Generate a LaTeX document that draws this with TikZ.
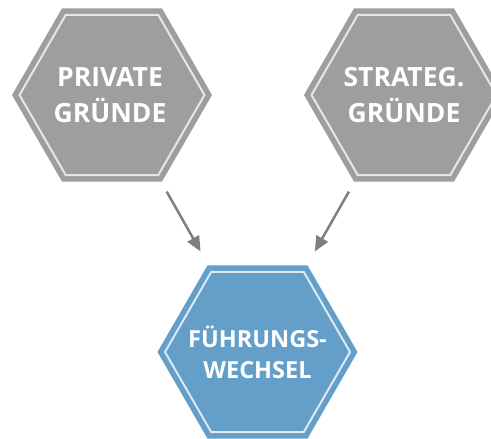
\documentclass[tikz,border=0pt]{standalone}
\usepackage{fontspec}
\setmainfont{Open Sans}
\usetikzlibrary{shapes.geometric, arrows.meta}
\definecolor{hexgray}{HTML}{9E9E9E}
\definecolor{hexgrayline}{HTML}{E6E6E6}
\definecolor{hexblue}{HTML}{639FC8}
\definecolor{hexblueline}{HTML}{DCE9F3}
\definecolor{arrowgray}{HTML}{7F7F7F}
\tikzset{hexa/.style={regular polygon, regular polygon sides=6, minimum size=200pt, inner sep=0pt, outer sep=0pt}}
\tikzset{hexline/.style={regular polygon, regular polygon sides=6, minimum size=185pt, inner sep=0pt, draw=#1, line width=2pt}}
\tikzset{bigtext/.style={text=white, align=center, inner sep=0pt, font=\bfseries\fontsize{26.5}{36}\selectfont}}
\tikzset{smalltext/.style={text=white, align=center, inner sep=0pt, font=\bfseries\fontsize{23.5}{31}\selectfont}}
\tikzset{flow/.style={draw=arrowgray, line width=2.5pt, -{Triangle[length=15pt, width=13pt]}}}

\begin{document}
\begin{tikzpicture}[x=1pt, y=1pt]
            \useasboundingbox (0, 0) rectangle (491, 439);
            \node[hexa, fill=hexgray] (priv) at (112, 344) {};
            \node[hexline=hexgrayline] (privin) at (priv) {};
            \node[bigtext] (privtext) at (110, 344) {PRIVATE\\GRÜNDE};
            \node[hexa, fill=hexgray] (strat) at (404, 344) {};
            \node[hexline=hexgrayline] (stratin) at (strat) {};
            \node[bigtext] (strattext) at (strat) {STRATEG.\\GRÜNDE};
            \node[hexa, fill=hexblue] (fw) at (257.5, 87) {};
            \node[hexline=hexblueline] (fwin) at (fw) {};
            \node[smalltext] (fwtext) at (fw) {FÜHRUNGS-\\WECHSEL};
            \foreach \src in {priv, strat} {
                \draw[flow, shorten <=11.5pt, shorten >=16pt] (\src) -- (fw);
            }
        \end{tikzpicture}
\end{document}
